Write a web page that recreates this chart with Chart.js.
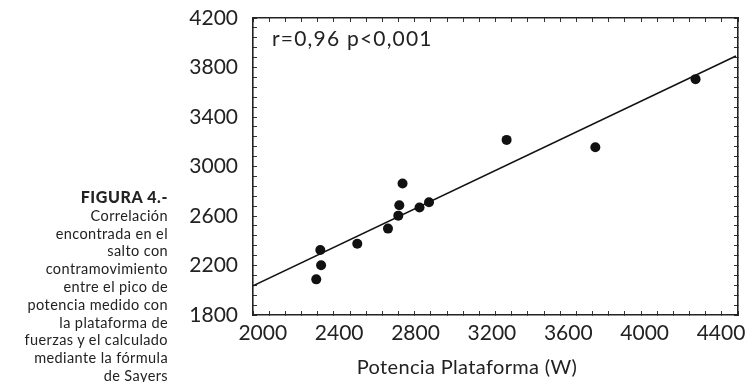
<!DOCTYPE html>
<html>
<head>
<meta charset="utf-8">
<script src="https://cdn.jsdelivr.net/npm/chart.js@4.4.0/dist/chart.umd.min.js"></script>
<style>
  html, body { margin:0; padding:0; background:#fff; }
  #wrap { position:relative; width:746px; height:382px; font-family:Lato, "Open Sans", sans-serif; color:#222; }
  #c { position:absolute; left:0; top:0; }
  #caption { position:absolute; right:578px; top:188px; text-align:right; font-size:14.5px; line-height:17.8px; letter-spacing:0.4px; white-space:nowrap; }
  #caption b { font-weight:900; font-size:16px; letter-spacing:0.6px; }
  #stat { position:absolute; left:272px; top:26px; font-size:21px; line-height:24px; letter-spacing:1.2px; white-space:nowrap; }
  #xtitle { position:absolute; left:317px; width:300px; top:354px; text-align:center; font-size:20px; line-height:24px; letter-spacing:0.35px; white-space:nowrap; }
</style>
</head>
<body>
<div id="wrap">
  <canvas id="c" width="746" height="382"></canvas>
  <div id="caption"><b>FIGURA 4.-</b><br>Correlación<br>encontrada en el<br>salto con<br>contramovimiento<br>entre el pico de<br>potencia medido con<br>la plataforma de<br>fuerzas y el calculado<br>mediante la fórmula<br>de Sayers</div>
  <div id="stat">r=0,96 p&lt;0,001</div>
  <div id="xtitle">Potencia Plataforma (W)</div>
</div>
<script>
// valores
const ptsX = [2313, 2333, 2337, 2516, 2668, 2719, 2724, 2740, 2824, 2871, 3255, 3694, 4190];
const ptsY = [2088, 2325, 2202, 2376, 2498, 2603, 2687, 2862, 2668, 2711, 3215, 3156, 3706];
const fitX = [2000, 4390];
const fitY = [2035, 3893];
const xTicks = [2000, 2400, 2800, 3200, 3600, 4000, 4400];
const yTicks = [1800, 2200, 2600, 3000, 3400, 3800, 4200];

const INK = '#222';
const FONT = { family: 'Lato, "Open Sans", sans-serif', size: 21 };

function noPad(s){ s.paddingTop = 0; s.paddingBottom = 0; s.paddingLeft = 0; s.paddingRight = 0; }

// ejes del marco, con marcas hacia dentro (menores cada 80)
function frameAxis(pos, min, max, extra){
  return Object.assign({
    type:'linear', position:pos, min, max,
    ticks:{ stepSize:80, autoSkip:false, display:false },
    grid:{ drawOnChartArea:false, tickLength:-4, color:'#333', lineWidth:1 },
    border:{ color:INK, width:1.6 },
    afterFit(s){ if (s.isHorizontal()) s.height = 0; else s.width = 0; noPad(s); }
  }, extra || {});
}

const yAxis = frameAxis('left', 1800, 4200, {
  ticks:{ stepSize:80, autoSkip:false, padding:19, color:INK, font:FONT,
    callback: v => yTicks.includes(Math.round(v)) ? String(Math.round(v)) : '' },
  afterFit(s){ s.width = 253; noPad(s); }
});

new Chart(document.getElementById('c'), {
  type:'scatter',
  data:{
    datasets:[
      { label:'datos', data: ptsX.map((x,i)=>({x, y:ptsY[i]})),
        pointRadius:5, pointBackgroundColor:'#111', pointBorderWidth:0, showLine:false },
      { label:'ajuste', type:'line', data: fitX.map((x,i)=>({x, y:fitY[i]})),
        borderColor:'#111', borderWidth:1.5, pointRadius:0, fill:false }
    ]
  },
  options:{
    responsive:false, animation:false,
    layout:{ padding:{ left:0, top:18, right:8, bottom:0 } },
    plugins:{ legend:{ display:false }, tooltip:{ enabled:false } },
    scales:{
      x: frameAxis('bottom', 2000, 4400),
      x2: frameAxis('top', 2000, 4400),
      y: yAxis,
      y2: frameAxis('right', 1800, 4200),
      // fila de etiquetas del eje X (en el original no coinciden exactamente con las marcas)
      xl: {
        type:'linear', position:'bottom', min:1948.7, max:4489,
        afterBuildTicks(s){ s.ticks = xTicks.map(v => ({ value:v })); },
        ticks:{ autoSkip:false, maxRotation:0, padding:6, color:INK, font:FONT, callback: v => String(v) },
        grid:{ display:false, drawTicks:false },
        border:{ display:false },
        afterFit(s){ s.height = 67; noPad(s); }
      }
    }
  }
});
</script>
</body>
</html>
